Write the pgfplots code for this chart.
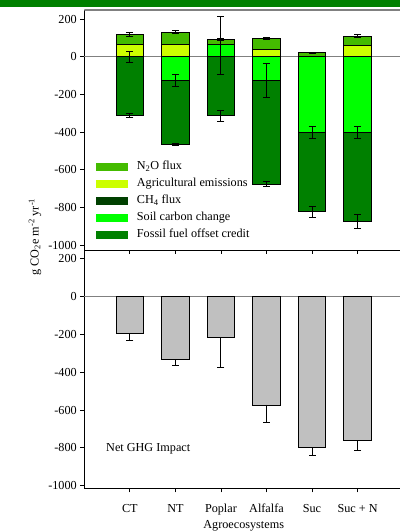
\documentclass[border=0pt]{standalone}
\usepackage{fontspec}
\setmainfont{Liberation Serif}
\usepackage{pgfplots}
\pgfplotsset{compat=1.18}
\definecolor{nox}{RGB}{68,187,0}
\definecolor{agri}{RGB}{204,255,0}
\definecolor{chf}{RGB}{0,64,0}
\definecolor{soil}{RGB}{0,255,0}
\definecolor{fossil}{RGB}{0,128,0}
\definecolor{netgray}{RGB}{192,192,192}
\definecolor{band}{RGB}{0,128,0}
\newcommand{\fs}{\fontsize{12.2bp}{14bp}\selectfont}
\pgfplotsset{
 legpatch/.style={legend image code/.code={\fill[#1] (0bp,-3.5bp) rectangle (31bp,3.5bp); \path (39.5bp,0bp);}},
 base/.style={width=318.8bp, scale only axis, xmin=-1, xmax=6, xtick={0,...,5},
   ytick={-1000,-800,...,200}, tick align=outside, major tick length=4bp,
   axis x line*=bottom, axis y line*=left,
   axis line style={black, line width=0.8bp, -}, tick style={black, line width=0.8bp},
   /pgf/number format/assume math mode=true, /pgf/number format/1000 sep={},
   tick label style={font=\fs}, label style={font=\fs},
   yticklabel style={anchor=east, xshift=0bp},
   extra y ticks={0}, extra y tick labels={},
   extra y tick style={grid=major, major grid style={gray, line width=1.5bp}}},
 bar/.style={ybar, bar width=27.5bp, bar shift=0pt, draw=black, line width=0.8bp, forget plot},
 ebar/.style={only marks, mark=text, text mark={}, black, forget plot,
   error bars/.cd, y dir=both, y explicit, error mark=|,
   error bar style={black, solid, line width=0.9bp},
   error mark options={black, mark size=3.5bp, line width=0.9bp}},
}
\begin{document}
\begin{tikzpicture}
\fill[band] (0bp,525.3bp) rectangle (400bp,532bp);
% top panel
\begin{axis}[base, at={(84.3bp,282bp)}, anchor=south west, height=240bp,
  ymin=-1025, ymax=248, xticklabels={},
  legend style={at={(axis description cs:0.036,0.379)}, anchor=north west, draw=none, fill=none,
    inner sep=0pt, font=\fs, row sep=3.1bp, cells={anchor=west},
    nodes={text height=9bp, text depth=3bp, inner sep=1bp}}]
\addlegendimage{legpatch=nox}\addlegendentry{N\textsubscript{2}O flux}
\addlegendimage{legpatch=agri}\addlegendentry{Agricultural emissions}
\addlegendimage{legpatch=chf}\addlegendentry{CH\textsubscript{4} flux}
\addlegendimage{legpatch=soil}\addlegendentry{Soil carbon change}
\addlegendimage{legpatch=fossil}\addlegendentry{Fossil fuel offset credit}
% positive totals (N2O on top)
\addplot[bar, fill=nox] coordinates {(0,118) (1,131) (2,92) (3,97) (4,21) (5,110)};
% agricultural emissions
\addplot[bar, fill=agri] coordinates {(0,65) (1,65) (3,39) (5,62)};
% poplar positive soil carbon change
\addplot[bar, fill=soil] coordinates {(2,66)};
% negative totals (fossil fuel offset credit at bottom)
\addplot[bar, fill=fossil] coordinates {(0,-313) (1,-463) (2,-313) (3,-675) (4,-822) (5,-875)};
% soil carbon change (negative)
\addplot[bar, fill=soil] coordinates {(1,-124) (3,-124) (4,-401) (5,-400)};
% error bars
\addplot[ebar] coordinates {(0,118) +- (0,10) (1,131) +- (0,8) (2,92) +- (0,5) (3,97) +- (0,6) (4,21) +- (0,3) (5,110) +- (0,7)};
\addplot[ebar] coordinates {(0,-3) +- (0,29) (1,-124) +- (0,31) (2,60) +- (0,152) (3,-126) +- (0,92) (4,-401) +- (0,33) (5,-400) +- (0,32)};
\addplot[ebar] coordinates {(0,-313) +- (0,11) (1,-463) +- (0,5) (2,-313) +- (0,29) (3,-675) +- (0,12) (4,-822) +- (0,30) (5,-875) +- (0,37)};
\draw[gray, line width=1.5bp] (rel axis cs:0,1) -- (rel axis cs:1,1);
\end{axis}
% bottom panel
\begin{axis}[base, at={(84.3bp,43.7bp)}, anchor=south west, height=238.3bp,
  ymin=-1013.8, ymax=247,
  xticklabels={CT, NT, Poplar, Alfalfa, Suc, Suc + N},
  xticklabel style={anchor=base, yshift=-19.7bp},
  xlabel={Agroecosystems},
  every axis x label/.style={at={(axis description cs:0.5,0)}, anchor=base, yshift=-40.5bp, font=\fs},
  ylabel={g CO\textsubscript{2}e m\textsuperscript{-2} yr\textsuperscript{-1}},
  every axis y label/.style={at={(axis description cs:-0.1546,1.0546)}, rotate=90, anchor=center, font=\fs}]
\addplot[bar, fill=netgray, error bars/.cd, y dir=minus, y explicit, error mark=|,
   error bar style={black, line width=0.9bp}, error mark options={black, mark size=3.5bp, line width=0.9bp}]
  coordinates {(0,-195) +- (0,35) (1,-331) +- (0,32) (2,-218) +- (0,157) (3,-573) +- (0,93) (4,-797) +- (0,44) (5,-763) +- (0,48)};
\node[anchor=west, font=\fs] at (axis description cs:0.0577,0.168) {Net GHG Impact};
\end{axis}
\pgfresetboundingbox
\useasboundingbox (0bp,0bp) rectangle (400bp,532bp);
\end{tikzpicture}
\end{document}
